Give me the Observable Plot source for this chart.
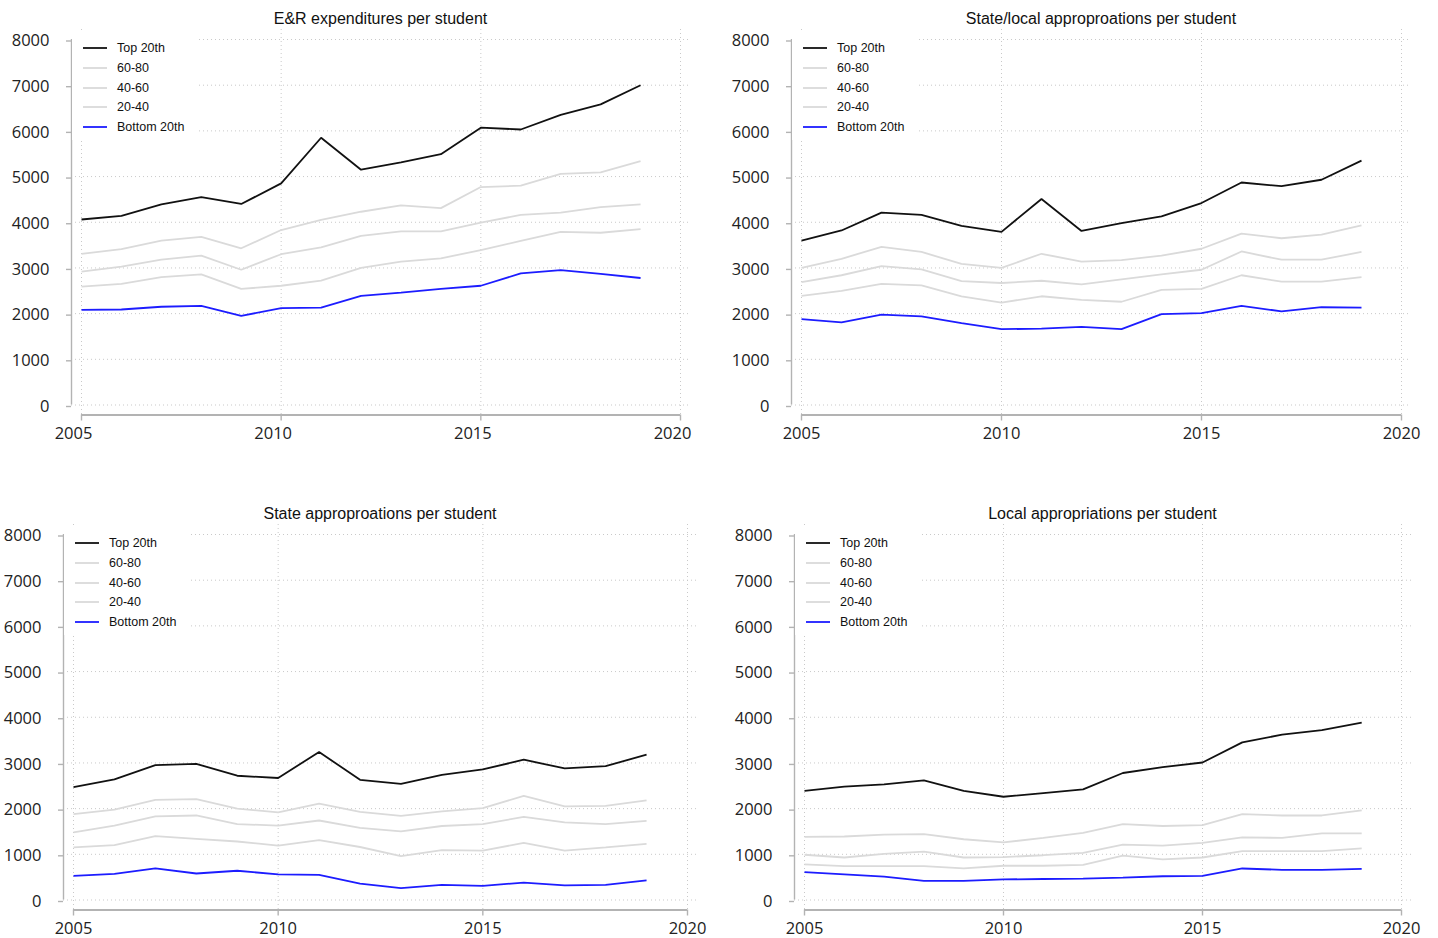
<!DOCTYPE html>
<html>
<head>
<meta charset="utf-8">
<script src="https://cdn.jsdelivr.net/npm/d3@7"></script>
<script src="https://cdn.jsdelivr.net/npm/@observablehq/plot@0.6"></script>
<style>
  html, body { margin: 0; padding: 0; background: #fff; }
  #page { position: relative; width: 1438px; height: 938px; overflow: hidden; background: #fff;
          font-family: "Liberation Sans", Arial, sans-serif; }
  .chart { position: absolute; }
  .title { position: absolute; font-size: 16px; line-height: 16px; color: #111; white-space: nowrap;
           transform: translateX(-50%); }
  .legend { position: absolute; background: #fff; }
  .legend svg { position: absolute; left: 0; top: 0; }
  .legend .lb { position: absolute; font-size: 12.5px; line-height: 14px; color: #111; white-space: nowrap; }
</style>
</head>
<body>
<div id="page"></div>
<script>
// ---- data ----
const years = [2005, 2006, 2007, 2008, 2009, 2010, 2011, 2012, 2013, 2014, 2015, 2016, 2017, 2018, 2019];
const seriesNames = ["Top 20th", "60-80", "40-60", "20-40", "Bottom 20th"];
const xTicks = [2005, 2010, 2015, 2020];
const yTicks = [0, 1000, 2000, 3000, 4000, 5000, 6000, 7000, 8000];
const panelTitles = [
  "E&R expenditures per student",
  "State/local approproations per student",
  "State approproations per student",
  "Local appropriations per student"
];

// E&R expenditures per student
const erTop  = [4060, 4140, 4390, 4550, 4400, 4850, 5850, 5150, 5310, 5490, 6070, 6030, 6350, 6580, 7000];
const er6080 = [3310, 3410, 3600, 3680, 3430, 3830, 4050, 4230, 4370, 4310, 4770, 4800, 5060, 5090, 5340];
const er4060 = [2920, 3030, 3180, 3270, 2960, 3300, 3450, 3700, 3800, 3800, 3990, 4160, 4210, 4330, 4390];
const er2040 = [2590, 2650, 2800, 2860, 2540, 2610, 2720, 3000, 3140, 3210, 3390, 3590, 3790, 3770, 3850];
const erBot  = [2080, 2090, 2150, 2170, 1950, 2120, 2130, 2390, 2460, 2540, 2610, 2880, 2950, 2870, 2780];

// State/local appropriations per student
const slTop  = [3600, 3820, 4210, 4160, 3920, 3790, 4510, 3810, 3980, 4130, 4420, 4870, 4790, 4930, 5350];
const sl6080 = [3000, 3200, 3460, 3350, 3090, 3000, 3310, 3140, 3170, 3270, 3420, 3750, 3650, 3730, 3930];
const sl4060 = [2690, 2840, 3040, 2970, 2710, 2670, 2720, 2640, 2750, 2860, 2960, 3360, 3180, 3180, 3350];
const sl2040 = [2390, 2500, 2650, 2620, 2380, 2240, 2380, 2300, 2260, 2520, 2540, 2840, 2700, 2700, 2800];
const slBot  = [1880, 1810, 1980, 1940, 1790, 1660, 1670, 1710, 1660, 1990, 2010, 2170, 2050, 2140, 2130];

// State appropriations per student
const stTop  = [2470, 2640, 2950, 2980, 2720, 2670, 3240, 2630, 2540, 2740, 2860, 3070, 2880, 2930, 3180];
const st6080 = [1880, 1980, 2190, 2210, 2000, 1920, 2110, 1930, 1840, 1940, 2010, 2280, 2050, 2060, 2180];
const st4060 = [1480, 1630, 1830, 1850, 1660, 1630, 1740, 1580, 1500, 1620, 1660, 1820, 1700, 1660, 1730];
const st2040 = [1150, 1200, 1400, 1340, 1280, 1190, 1310, 1160, 960, 1090, 1080, 1250, 1080, 1150, 1230];
const stBot  = [530, 570, 690, 580, 640, 560, 550, 360, 260, 330, 310, 380, 320, 330, 430];

// Local appropriations per student
const loTop  = [2390, 2480, 2530, 2620, 2390, 2260, 2340, 2420, 2780, 2910, 3010, 3450, 3620, 3720, 3880];
const lo6080 = [1380, 1390, 1430, 1440, 1330, 1260, 1360, 1470, 1660, 1620, 1640, 1880, 1850, 1850, 1960];
const lo4060 = [990, 930, 1010, 1060, 930, 940, 980, 1030, 1210, 1190, 1250, 1370, 1360, 1460, 1460];
const lo2040 = [780, 740, 740, 740, 690, 750, 750, 770, 970, 890, 930, 1070, 1070, 1070, 1130];
const loBot  = [610, 560, 510, 420, 420, 450, 460, 470, 490, 520, 530, 690, 660, 660, 680];

const panelSeries = [
  [erTop, er6080, er4060, er2040, erBot],
  [slTop, sl6080, sl4060, sl2040, slBot],
  [stTop, st6080, st4060, st2040, stBot],
  [loTop, lo6080, lo4060, lo2040, loBot]
];

// ---- styling / layout ----
const seriesColors = ["#111111", "#dadada", "#dadada", "#dadada", "#1c1cff"];
const axisGray = "#b3b3b3";
const gridGray = "#c9c9c9";
// frame edges (left, right, top, bottom) of each plot region on the page
const frames = [
  {L: 71,  R: 690,  T: 29,  B: 414.5, labelDx: -8},
  {L: 791, R: 1411, T: 28.5, B: 414,  labelDx: 0},
  {L: 63,  R: 697,  T: 524, B: 909.5, labelDx: 0},
  {L: 794, R: 1411, T: 524, B: 909.5, labelDx: 0}
];
const ML = 70, MR = 30, MT = 12, MB = 45, INSET = 10;
const SVGNS = "http://www.w3.org/2000/svg";

const page = document.getElementById("page");

frames.forEach((f, pi) => {
  const rows = [];
  panelSeries[pi].forEach((arr, si) => {
    arr.forEach((v, i) => rows.push({year: years[i], value: v, series: seriesNames[si], si}));
  });

  const lineMarks = seriesNames.map((name, si) =>
    Plot.line(rows.filter(d => d.si === si), {
      x: "year", y: "value", stroke: seriesColors[si], strokeWidth: 1.8,
      strokeLinejoin: "miter", strokeLinecap: "butt"
    })
  );

  const width = ML + (f.R - f.L) + MR;
  const height = MT + (f.B - f.T) + MB;

  const chart = Plot.plot({
    width, height,
    marginLeft: ML, marginRight: MR, marginTop: MT, marginBottom: MB,
    inset: INSET,
    x: {domain: [2005, 2020]},
    y: {domain: [0, 8000]},
    style: {overflow: "visible", background: "transparent", fontFamily: "'Open Sans', sans-serif", fontSize: "16.5px", color: "#222"},
    marks: [
      Plot.gridX(xTicks, {stroke: gridGray, strokeOpacity: 1, strokeWidth: 1, strokeDasharray: "1,3"}),
      Plot.gridY(yTicks, {stroke: gridGray, strokeOpacity: 1, strokeWidth: 1, strokeDasharray: "1,3"}),
      ...lineMarks,
      Plot.ruleX([2005], {y1: 0, y2: 8000, dx: -INSET, stroke: axisGray, strokeWidth: 1.4}),
      Plot.ruleY([0], {x1: 2005, x2: 2020, dy: INSET, stroke: axisGray, strokeWidth: 2}),
      Plot.axisY(yTicks, {anchor: "left", tickSize: 5, tickPadding: 17, stroke: axisGray, strokeWidth: 1.4,
        fill: "#222", fontSize: 16.5, fontFamily: "'Open Sans', sans-serif", dy: 1.5,
        tickFormat: d3.format("d"), label: null}),
      Plot.axisX(xTicks, {anchor: "bottom", tickSize: 6, stroke: axisGray, strokeWidth: 1.4,
        tickFormat: () => "", label: null}),
      Plot.axisX(xTicks, {anchor: "bottom", tickSize: 0, tickPadding: 12.5, dx: f.labelDx,
        fill: "#222", fontSize: 16.5, fontFamily: "'Open Sans', sans-serif",
        tickFormat: d3.format("d"), label: null})
    ]
  });
  chart.classList.add("chart");
  chart.style.left = (f.L - ML) + "px";
  chart.style.top = (f.T - MT) + "px";
  page.appendChild(chart);

  // title
  const t = document.createElement("div");
  t.className = "title";
  t.textContent = panelTitles[pi];
  t.style.left = ((f.L + f.R) / 2) + "px";
  t.style.top = (f.T - 18) + "px";
  page.appendChild(t);

  // legend (white box covering the grid)
  const lg = document.createElement("div");
  lg.className = "legend";
  lg.style.left = (f.L + 1) + "px";
  lg.style.top = (f.T + 4) + "px";
  lg.style.width = "127px";
  lg.style.height = "107px";
  const rowOffsets = [15, 35, 55, 74, 94];
  const sw = document.createElementNS(SVGNS, "svg");
  sw.setAttribute("width", "127");
  sw.setAttribute("height", "107");
  lg.appendChild(sw);
  seriesNames.forEach((name, si) => {
    const ln = document.createElementNS(SVGNS, "line");
    ln.setAttribute("x1", "11");
    ln.setAttribute("x2", "35");
    ln.setAttribute("y1", rowOffsets[si]);
    ln.setAttribute("y2", rowOffsets[si]);
    ln.setAttribute("stroke", seriesColors[si]);
    ln.setAttribute("stroke-width", "1.8");
    sw.appendChild(ln);
    const lb = document.createElement("div");
    lb.className = "lb";
    lb.style.left = "45px";
    lb.style.top = (rowOffsets[si] - 7) + "px";
    lb.textContent = name;
    lg.appendChild(lb);
  });
  page.appendChild(lg);
});
</script>
</body>
</html>
